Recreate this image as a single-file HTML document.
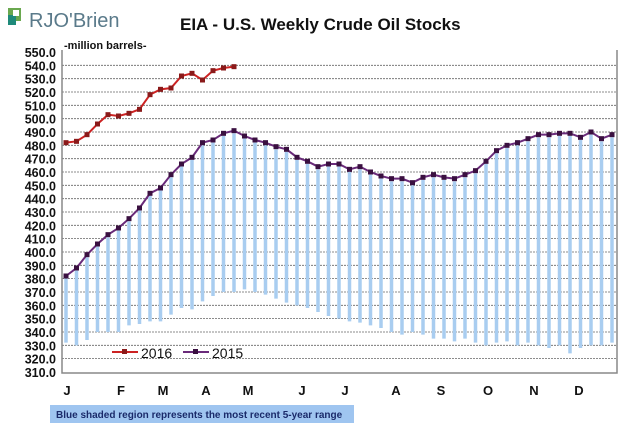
<!DOCTYPE html><html><head><style>body{margin:0;background:#fff;font-family:"Liberation Sans",sans-serif}</style></head><body>
<svg id="s" width="637" height="435" xmlns="http://www.w3.org/2000/svg" font-family="Liberation Sans, sans-serif">
<rect x="8" y="8" width="13" height="13" fill="#6aa84f"/><rect x="8" y="15" width="8" height="10" fill="#1f8a7a"/><rect x="13" y="10" width="6" height="6" fill="#fff"/>
<text x="29" y="27" font-size="20" fill="#5a7a8a">RJO'Brien</text>
<text x="180" y="30" font-size="17" font-weight="bold" fill="#111">EIA - U.S. Weekly Crude Oil Stocks</text>
<text x="64" y="49" font-size="11" font-weight="bold" fill="#111">-million  barrels-</text>
<g id="g"></g>
<rect x="50" y="405" width="304" height="18" fill="#9fc5f0"/>
<text x="56" y="418" font-size="10" font-weight="bold" fill="#1a2a6a">Blue shaded region represents the most  recent 5-year range</text>
</svg>
<script>
var g=document.getElementById('g'),h='';
function Y(v){return 52+(550-v)*1.3333;}
for(var v=310;v<=550;v+=10){var y=Y(v);h+='<text x="56" y="'+(y+5)+'" font-size="12.5" font-weight="bold" text-anchor="end" fill="#111">'+v.toFixed(1)+'</text>';if(v>310&&v<550)h+='<line x1="62" x2="617" y1="'+y+'" y2="'+y+'" stroke="#666" stroke-width="0.8" stroke-dasharray="2,1"/>';}
var a=[382,388,398,406,413,418,425,433,444,448,458,466,471,482,484,489,491,487,484,482,479,477,471,468,464,466,466,462,464,460,457,455,455,452,456,458,456,455,458,461,468,476,480,482,485,488,488,489,489,486,490,485,488];
var b=[482,483,488,496,503,502,504,507,518,522,523,532,534,529,536,538,539];
var lo=[332,330,334,340,340,340,345,346,348,348,353,358,357,363,367,370,370,372,370,368,365,362,360,358,355,352,350,348,347,345,343,340,338,340,338,335,335,333,335,332,330,332,333,330,332,330,328,330,324,328,330,330,332];
function X(i){return 66+i*10.5;}
for(var i=0;i<a.length;i++)h+='<line x1="'+X(i)+'" x2="'+X(i)+'" y1="'+Y(a[i]-2)+'" y2="'+Y(lo[i])+'" stroke="#a9cdf0" stroke-width="3.5"/>';
h+='<path d="M62 50V373H617V50" fill="none" stroke="#888" stroke-width="1.5"/>';
function line(d,c){var p='';for(var i=0;i<d.length;i++)p+=(i?'L':'M')+X(i)+' '+Y(d[i]);h+='<path d="'+p+'" fill="none" stroke="'+c+'" stroke-width="2"/>';for(i=0;i<d.length;i++)h+='<rect x="'+(X(i)-2.5)+'" y="'+(Y(d[i])-2.5)+'" width="5" height="5" fill="'+(c=='#cc2222'?'#8a1a1a':'#3a1040')+'"/>';}
line(a,'#6a2a7a');line(b,'#cc2222');
h+='<line x1="112" x2="138" y1="352" y2="352" stroke="#cc2222" stroke-width="2"/><rect x="122" y="349" width="5" height="5" fill="#8a1a1a"/><text x="141" y="358" font-size="14" fill="#111">2016</text>';
h+='<line x1="183" x2="209" y1="352" y2="352" stroke="#6a2a7a" stroke-width="2"/><rect x="193" y="349" width="5" height="5" fill="#3a1040"/><text x="212" y="358" font-size="14" fill="#111">2015</text>';
var m=['J','F','M','A','M','J','J','A','S','O','N','D'],mx=[67,121,163,206,248,302,345,396,441,488,534,579];
for(i=0;i<12;i++)h+='<text x="'+mx[i]+'" y="395" font-size="13" font-weight="bold" text-anchor="middle" fill="#111">'+m[i]+'</text>';
g.innerHTML=h;
</script></body></html>
